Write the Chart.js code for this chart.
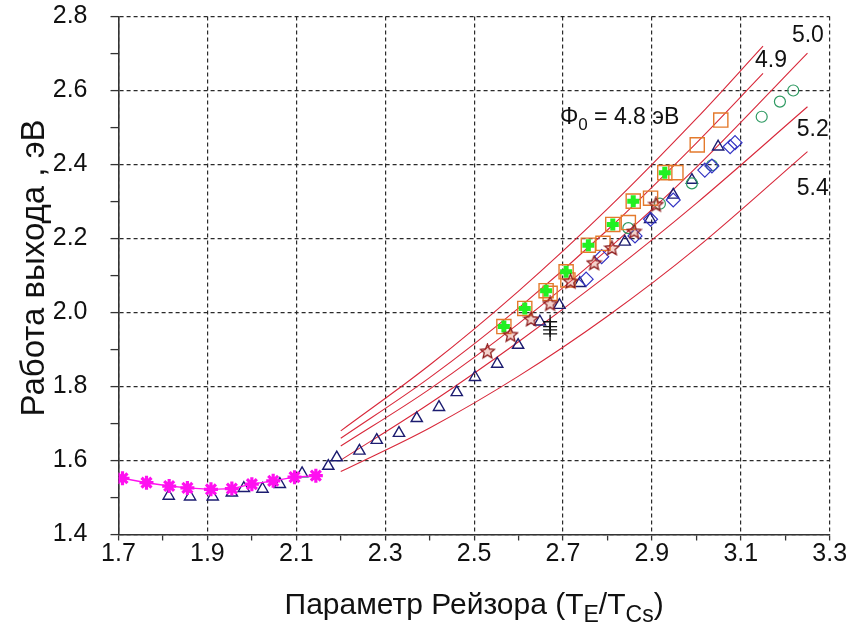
<!DOCTYPE html>
<html>
<head>
<meta charset="utf-8">
<script src="https://cdn.jsdelivr.net/npm/chart.js"></script>
<style>
  body { margin: 0; background: #fff; }
  #wrap { width: 857px; height: 631px; }
</style>
</head>
<body>
<div id="wrap"><canvas id="rasorChart" width="857" height="631"></canvas></div>
<script>
// --- measured work function vs Rasor parameter ---
const pinkX = [1.709, 1.763, 1.814, 1.855, 1.908, 1.955, 2.000, 2.048, 2.096, 2.144];
const pinkY = [1.552, 1.540, 1.531, 1.526, 1.522, 1.524, 1.536, 1.545, 1.555, 1.559];

const triX = [1.813, 1.861, 1.912, 1.955, 1.982, 2.024, 2.063, 2.113, 2.172, 2.191, 2.242, 2.281, 2.331, 2.371,
              2.421, 2.461, 2.502, 2.552, 2.599, 2.648, 2.692, 2.738, 2.839, 2.896, 2.948, 2.990, 3.049];
const triY = [1.504, 1.502, 1.502, 1.513, 1.525, 1.523, 1.536, 1.565, 1.585, 1.608, 1.626, 1.655, 1.674, 1.714,
              1.744, 1.784, 1.825, 1.861, 1.912, 1.975, 2.020, 2.079, 2.191, 2.252, 2.318, 2.358, 2.448];

const plusX = [2.567, 2.614, 2.662, 2.707, 2.757, 2.812, 2.858, 2.929];
const plusY = [1.962, 2.011, 2.059, 2.110, 2.182, 2.238, 2.301, 2.378];

const squareX = [2.567, 2.614, 2.662, 2.671, 2.707, 2.711, 2.757, 2.790, 2.812, 2.847, 2.858, 2.897, 2.929, 2.954, 3.002, 3.055];
const squareY = [1.962, 2.011, 2.059, 2.052, 2.110, 2.088, 2.182, 2.187, 2.238, 2.243, 2.301, 2.309, 2.378, 2.378, 2.453, 2.520];

const redStarX = [2.530, 2.582, 2.628, 2.671, 2.717, 2.770, 2.810, 2.860, 2.909];
const redStarY = [1.894, 1.939, 1.981, 2.023, 2.083, 2.133, 2.173, 2.218, 2.291];

const diamondX = [2.752, 2.787, 2.862, 2.897, 2.948, 3.019, 3.035, 3.076, 3.087];
const diamondY = [2.090, 2.151, 2.207, 2.252, 2.304, 2.385, 2.396, 2.448, 2.459];

const circleX = [2.847, 2.918, 2.990, 3.035, 3.147, 3.188, 3.218];
const circleY = [2.228, 2.294, 2.349, 2.398, 2.529, 2.570, 2.600];

const markX = [2.671, 2.671, 2.671, 2.671];
const markY = [1.975, 1.962, 1.953, 1.942];

// --- calculated curves for several bare work functions Φ0 ---
const phi0 = ['4.8', '4.9', '5.0', '5.2', '5.4'];
const curveX = [
  [2.2, 2.4, 2.6, 2.8, 3.0, 3.15],
  [2.2, 2.4, 2.6, 2.8, 3.0, 3.15],
  [2.2, 2.4, 2.6, 2.8, 3.0, 3.25],
  [2.2, 2.4, 2.6, 2.8, 3.0, 3.25],
  [2.2, 2.4, 2.6, 2.8, 3.0, 3.25]
];
const curveY = [
  [1.680, 1.858, 2.058, 2.280, 2.524, 2.720],
  [1.660, 1.824, 2.012, 2.223, 2.458, 2.646],
  [1.639, 1.793, 1.970, 2.170, 2.392, 2.701],
  [1.601, 1.754, 1.921, 2.101, 2.295, 2.556],
  [1.570, 1.688, 1.828, 1.990, 2.174, 2.435]
];

const xTicks = { min: 1.7, max: 3.3, step: 0.1 };
const yTicks = { min: 1.4, max: 2.8, step: 0.1 };

const FONT = '"Liberation Sans", Arial, sans-serif';

const pts = (xs, ys) => xs.map((x, i) => ({ x: x, y: ys[i] }));

// outlined five-point star used for one of the series
function makeStar(size, stroke, fill) {
  const c = document.createElement('canvas');
  c.width = size; c.height = size;
  const g = c.getContext('2d');
  const cx = size / 2, cy = size / 2, ro = size / 2 - 1, ri = ro * 0.45;
  g.beginPath();
  for (let i = 0; i < 10; i++) {
    const r = i % 2 ? ri : ro;
    const a = -Math.PI / 2 + i * Math.PI / 5;
    g.lineTo(cx + r * Math.cos(a), cy + r * Math.sin(a));
  }
  g.closePath();
  g.fillStyle = fill; g.fill();
  g.strokeStyle = stroke; g.lineWidth = 1.3; g.stroke();
  return c;
}
const redStar = makeStar(17, '#8e1c1c', 'rgba(220,110,90,0.3)');

const curveSets = phi0.map((p, i) => ({
  label: 'Φ0 = ' + p,
  data: pts(curveX[i], curveY[i]),
  showLine: true,
  borderColor: '#d8283a',
  borderWidth: 1.1,
  pointRadius: 0,
  tension: 0.35,
  order: 20
}));

const datasets = [
  ...curveSets,
  { label: 'tri', data: pts(triX, triY), pointStyle: 'triangle', pointRadius: 6.5,
    borderColor: '#1c1c70', borderWidth: 1.4, backgroundColor: 'rgba(0,0,0,0)', order: 9 },
  { label: 'pink', data: pts(pinkX, pinkY), showLine: true, pointStyle: 'star', pointRadius: 7,
    borderColor: '#ff10f0', backgroundColor: '#ff10f0', borderWidth: 1.4, pointBorderWidth: 3.2, order: 8 },
  { label: 'circle', data: pts(circleX, circleY), pointStyle: 'circle', pointRadius: 5.5,
    borderColor: '#2e9a62', borderWidth: 1.2, backgroundColor: 'rgba(0,0,0,0)', order: 7 },
  { label: 'diamond', data: pts(diamondX, diamondY), pointStyle: 'rectRot', pointRadius: 7,
    borderColor: '#3434c4', borderWidth: 1.2, backgroundColor: 'rgba(0,0,0,0)', order: 6 },
  { label: 'square', data: pts(squareX, squareY), pointStyle: 'rect', pointRadius: 10,
    borderColor: '#e47a2c', borderWidth: 1.4, backgroundColor: 'rgba(0,0,0,0)', order: 5 },
  { label: 'plus', data: pts(plusX, plusY), pointStyle: 'cross', pointRadius: 6,
    borderColor: '#22f022', borderWidth: 5, order: 4 },
  { label: 'redstar', data: pts(redStarX, redStarY), pointStyle: redStar, order: 3 },
  { label: 'mark', data: pts(markX, markY), pointStyle: 'cross', pointRadius: 7,
    borderColor: '#111', borderWidth: 1.3, order: 2 }
];

// curve captions, in data units
const captionAt = [
  null,
  { x: 3.168, y: 2.682 },
  { x: 3.251, y: 2.748 },
  { x: 3.262, y: 2.493 },
  { x: 3.262, y: 2.336 }
];

const textPlugin = {
  id: 'rasorText',
  afterDraw(chart) {
    const { ctx, scales: { x, y }, chartArea } = chart;
    ctx.save();
    ctx.fillStyle = '#111';
    ctx.textBaseline = 'middle';

    ctx.font = '23px ' + FONT;
    ctx.textAlign = 'center';
    captionAt.forEach((c, i) => {
      if (!c) return;
      ctx.fillText(phi0[i], x.getPixelForValue(c.x), y.getPixelForValue(c.y));
    });

    // Φ0 = 4.8 эВ
    let px = x.getPixelForValue(2.693), py = y.getPixelForValue(2.526);
    ctx.textAlign = 'left';
    ctx.fillText('Φ', px, py);
    px += ctx.measureText('Φ').width;
    ctx.font = '17px ' + FONT;
    ctx.fillText('0', px, py + 7);
    px += ctx.measureText('0').width;
    ctx.font = '23px ' + FONT;
    ctx.fillText(' = ' + phi0[0] + ' эВ', px, py);

    // x axis title with subscripts
    const parts = [
      { t: 'Параметр Рейзора (T', sub: false },
      { t: 'E', sub: true },
      { t: '/T', sub: false },
      { t: 'Cs', sub: true },
      { t: ')', sub: false }
    ];
    const big = '30px ' + FONT, small = '23px ' + FONT;
    let total = 0;
    parts.forEach(p => { ctx.font = p.sub ? small : big; total += ctx.measureText(p.t).width; });
    px = (chartArea.left + chartArea.right) / 2 - total / 2;
    py = 606;
    parts.forEach(p => {
      ctx.font = p.sub ? small : big;
      ctx.fillText(p.t, px, p.sub ? py + 10 : py);
      px += ctx.measureText(p.t).width;
    });

    // y axis title
    ctx.translate(35, 268);
    ctx.rotate(-Math.PI / 2);
    ctx.textAlign = 'center';
    ctx.font = '33px ' + FONT;
    ctx.fillText('Работа выхода , эВ', 0, 0);
    ctx.restore();
  }
};

const gridColor = ctx => (ctx.index % 2 === 0 ? '#2a2a2a' : 'rgba(0,0,0,0)');
const label = (v, i) => (i % 2 === 0 ? Number(v).toFixed(1) : '');

new Chart(document.getElementById('rasorChart'), {
  type: 'scatter',
  data: { datasets: datasets },
  options: {
    responsive: false,
    animation: false,
    layout: { padding: { top: 16.5, right: 27.3, left: 0, bottom: 0 } },
    plugins: { legend: { display: false }, tooltip: { enabled: false }, title: { display: false } },
    scales: {
      x: {
        type: 'linear', min: xTicks.min, max: xTicks.max,
        afterFit: s => { s.height = 96.5; s.paddingLeft = 0; s.paddingRight = 0; },
        ticks: { stepSize: xTicks.step, callback: label, color: '#111', padding: 1,
                 font: { family: FONT, size: 25, lineHeight: 1 }, maxRotation: 0, autoSkip: false },
        grid: { color: gridColor, lineWidth: 1.2, tickColor: '#333', tickLength: 6, tickWidth: 1.3 },
        border: { color: '#333', width: 1.6, dash: [4, 3] }
      },
      y: {
        type: 'linear', min: yTicks.min, max: yTicks.max,
        afterFit: s => { s.width = 118.5; s.paddingTop = 0; s.paddingBottom = 0; },
        ticks: { stepSize: yTicks.step, callback: label, color: '#111', padding: 23,
                 font: { family: FONT, size: 25, lineHeight: 1 }, autoSkip: false },
        grid: { color: gridColor, lineWidth: 1.2, tickColor: '#333', tickLength: 8, tickWidth: 1.3 },
        border: { color: '#333', width: 1.6, dash: [4, 3] }
      }
    }
  },
  plugins: [textPlugin]
});
</script>
</body>
</html>
